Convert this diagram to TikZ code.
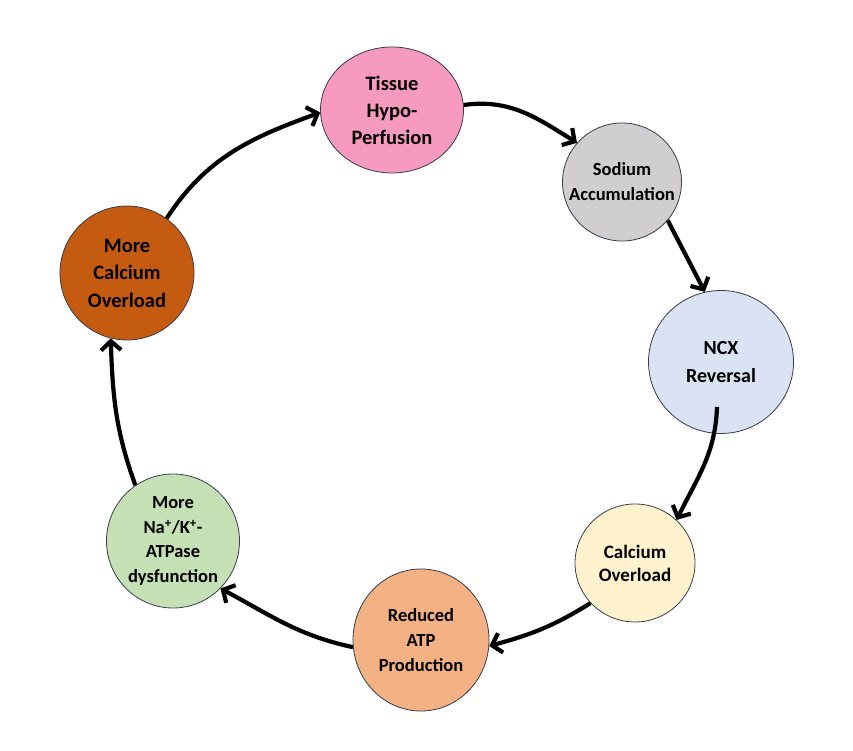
\documentclass[tikz,border=0pt]{standalone}
\usepackage{fontspec}
\setmainfont{Carlito}
\usetikzlibrary{shapes.geometric,arrows.meta}
\definecolor{cpink}{RGB}{247,154,192}
\definecolor{cgray}{RGB}{208,206,206}
\definecolor{cblue}{RGB}{218,227,243}
\definecolor{cyellow}{RGB}{255,242,204}
\definecolor{corange}{RGB}{244,177,131}
\definecolor{cgreen}{RGB}{197,224,180}
\definecolor{cbrown}{RGB}{197,90,17}
\definecolor{cedge}{RGB}{55,60,75}
\tikzset{
  bubble/.style={ellipse, draw=cedge, line width=0.8pt, inner sep=0pt},
  txt/.style={align=center, inner sep=0pt},
  flow/.style={line width=4.2pt, -{Straight Barb[length=9pt,width=20pt]}},
}
\begin{document}
\begin{tikzpicture}[x=1pt,y=1pt]
\useasboundingbox (0,0) rectangle (853,750);
\node[bubble, fill=cpink, minimum width=143pt, minimum height=126pt] (th) at (392,640) {};
\node[txt, font=\bfseries\fontsize{20.5}{27}\selectfont] (tht) at (th.center) {Tissue\\Hypo-\\Perfusion};
\node[bubble, fill=cgray, minimum width=119pt, minimum height=118pt] (na) at (622,568) {};
\node[txt, font=\bfseries\fontsize{18.5}{25}\selectfont] (nat) at (na.center) {Sodium\\Accumulation};
\node[bubble, fill=cblue, minimum width=145pt, minimum height=143pt] (ncx) at (721,388) {};
\node[txt, font=\bfseries\fontsize{20}{28}\selectfont] (ncxt) at (ncx.center) {NCX\\Reversal};
\node[bubble, fill=cyellow, minimum width=120pt, minimum height=118pt] (ca) at (635,187) {};
\node[txt, font=\bfseries\fontsize{19}{23}\selectfont] (cat) at (ca.center) {Calcium\\Overload};
\node[bubble, fill=corange, minimum width=136pt, minimum height=142pt] (atp) at (421,110) {};
\node[txt, font=\bfseries\fontsize{18.5}{25}\selectfont] (atpt) at (atp.center) {Reduced\\ATP\\Production};
\node[bubble, fill=cgreen, minimum width=133pt, minimum height=134pt] (nak) at (173,209) {};
\node[txt, font=\bfseries\fontsize{18.5}{24.5}\selectfont] (nakt) at (nak.center) {More\\Na\textsuperscript{+}/K\textsuperscript{+}-\\ATPase\\dysfunction};
\node[bubble, fill=cbrown, minimum width=134pt, minimum height=134pt] (mca) at (127,477) {};
\node[txt, font=\bfseries\fontsize{20.5}{27.5}\selectfont] (mcat) at (mca.center) {More\\Calcium\\Overload};
\coordinate (ncxout) at (717,343);
\draw[flow] (mca.54) to[out=57, in=200] (th.182);
\draw[flow] (th.4) to[out=8, in=148] (na.139);
\draw[flow] (na.-40) -- (ncx.103);
\draw[flow] (ncxout) to[out=-92, in=64] (ca.46);
\draw[flow] (ca.222) to[out=212, in=15] (atp.-5);
\draw[flow] (atp.186) to[out=168, in=-28] (nak.-45);
\draw[flow] (nak.124) to[out=110, in=-88] (mca.256);
\end{tikzpicture}
\end{document}
